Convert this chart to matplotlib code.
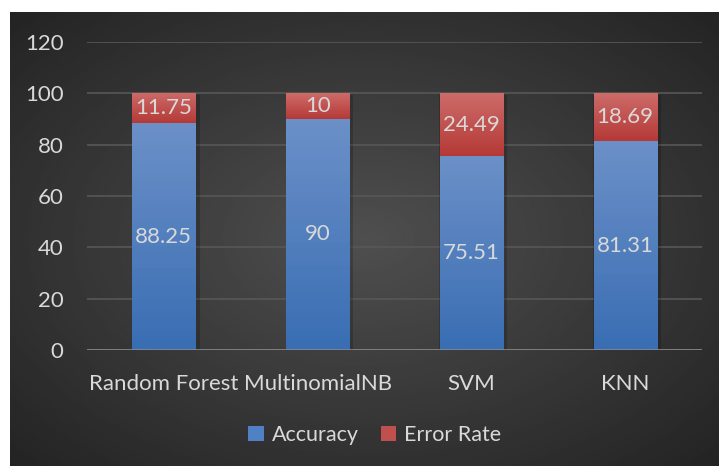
import numpy as np
import matplotlib
matplotlib.use("Agg")
import matplotlib.pyplot as plt
from matplotlib.patches import Patch

models = ['Random Forest', 'MultinomialNB', 'SVM', 'KNN']
accuracy = [88.25, 90, 75.51, 81.31]
error_rate = [11.75, 10, 24.49, 18.69]
yticks = [0, 20, 40, 60, 80, 100, 120]

plt.rcParams['font.family'] = ['Lato', 'DejaVu Sans']
txt = '#d9d9d9'

fig = plt.figure(figsize=(7.19, 4.66), dpi=100)
fig.patch.set_facecolor('white')

# dark radial background of the chart area
bg = fig.add_axes([10 / 719, 0, 709 / 719, 454 / 466])
yy, xx = np.mgrid[-1:1:200j, -1:1:300j]
r = np.sqrt(xx ** 2 + yy ** 2) / np.sqrt(2)
bg.imshow(0.31 - 0.17 * r, cmap='gray', vmin=0, vmax=1, aspect='auto',
          extent=[0, 1, 0, 1])
bg.axis('off')

ax = fig.add_axes([87 / 719, 116 / 466, 615 / 719, 308 / 466])
ax.set_facecolor('none')

x = np.arange(len(models))
w = 0.41


def grad_fill(bars, top, bottom):
    cmap = matplotlib.colors.LinearSegmentedColormap.from_list('g', [bottom, top])
    for b in bars:
        x0, y0 = b.get_x(), b.get_y()
        im = ax.imshow(np.linspace(0, 1, 50).reshape(-1, 1), cmap=cmap,
                       origin='lower', aspect='auto', zorder=3,
                       extent=[x0, x0 + b.get_width(), y0, y0 + b.get_height()])
        im.set_clip_path(b)


# soft shadow behind bars
for i in range(len(models)):
    ax.bar(x[i] + 0.012, accuracy[i] + error_rate[i], w + 0.03, bottom=-0.8,
           color='black', alpha=0.18, zorder=2, linewidth=0)

b1 = ax.bar(x, accuracy, w, color='#4f81c4', zorder=3, linewidth=0)
b2 = ax.bar(x, error_rate, w, bottom=accuracy, color='#c0504d', zorder=3,
            linewidth=0)
grad_fill(b1, '#6b90c8', '#3a6eb3')
grad_fill(b2, '#cd6b69', '#b53a37')

for i in range(len(models)):
    ax.text(x[i], accuracy[i] / 2, f'{accuracy[i]:g}', ha='center',
            va='center', color=txt, fontsize=16, zorder=5)
    ax.text(x[i], accuracy[i] + error_rate[i] / 2, f'{error_rate[i]:g}',
            ha='center', va='center', color=txt, fontsize=16, zorder=5)

ax.set_xlim(-0.5, 3.5)
ax.set_ylim(0, 120)
ax.set_yticks(yticks)
ax.set_xticks(x)
ax.set_xticklabels(models)
ax.tick_params(colors=txt, labelsize=16, length=0)
ax.tick_params(axis='y', pad=17)
ax.tick_params(axis='x', pad=17)
ax.grid(axis='y', color='#575757', linewidth=1.2, zorder=0)
for s in ax.spines.values():
    s.set_visible(False)
ax.axhline(0, color='#8c8c8c', linewidth=1.8, zorder=4)

handles = [Patch(facecolor='#4f81c4', label='Accuracy'),
           Patch(facecolor='#c0504d', label='Error Rate')]
fig.legend(handles=handles, loc='center', bbox_to_anchor=(375 / 719, 31 / 466),
           ncol=2, frameon=False, fontsize=15.5, labelcolor=txt,
           handlelength=0.7, handleheight=0.7, handletextpad=0.4,
           columnspacing=1.0)

fig.savefig('out.png', dpi=100)
